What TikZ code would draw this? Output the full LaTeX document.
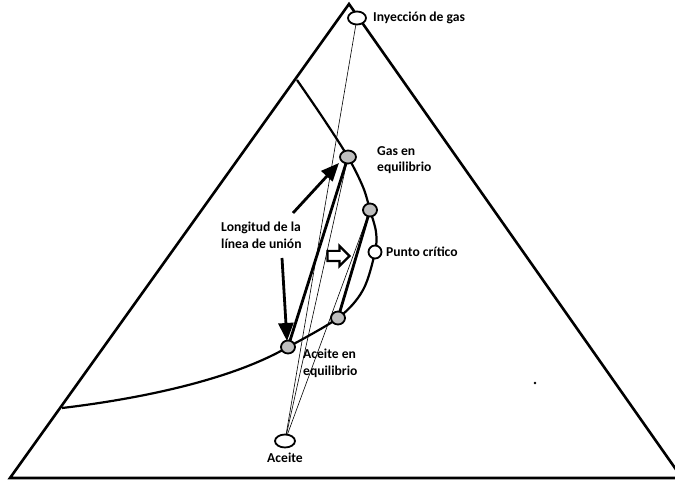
\documentclass[tikz,border=0pt]{standalone}
\usepackage{fontspec}
\setmainfont{Carlito}
\usetikzlibrary{arrows.meta,shapes.geometric,shapes.arrows}
\definecolor{ink}{RGB}{0,0,0}
\definecolor{pgray}{RGB}{190,190,190}
\tikzset{
  >={Triangle[length=18pt,width=15pt]},
  edge/.style={line width=2.6pt,draw=ink,line join=miter},
  binodal/.style={line width=2.2pt,draw=ink},
  tie/.style={line width=2.8pt,draw=ink},
  ray/.style={line width=0.6pt,draw=ink},
  phase/.style={ellipse,draw=ink,line width=1.8pt,fill=#1,inner sep=0pt,
    minimum width=14pt,minimum height=13pt},
  phase/.default=pgray,
  lbl/.style={font=\fontsize{13.6}{16.5}\selectfont\bfseries,align=left,inner sep=0pt},
  pointer/.style={->,line width=2.8pt,draw=ink},
}
\begin{document}
\begin{tikzpicture}[x=1pt,y=-1pt]
  \useasboundingbox (0,0) rectangle (675,481);
  % ternary frame
  \coordinate (top) at (349,4);
  \coordinate (bl) at (10,478);
  \coordinate (br) at (682,478);
  \draw[edge] (top) -- (bl) -- (br) -- cycle;
  % points of the phase envelope
  \coordinate (pinj) at (357,18);
  \coordinate (pgas) at (348,157);
  \coordinate (pgas2) at (370,210);
  \coordinate (pcrit) at (375,252);
  \coordinate (poil2) at (338,318);
  \coordinate (poileq) at (288,347);
  \coordinate (poil) at (285,441);
  % binodal curve
  \draw[binodal] plot[smooth,tension=0.55] coordinates {(297,80) (323,118) (pgas) (363,187)
    (pgas2) (376,232) (pcrit) (363,290) (poil2) (poileq)};
  \draw[binodal] (poileq) .. controls (228,382) and (130,400) .. (62,408);
  % tie lines
  \draw[tie] (poileq) -- (pgas);
  \draw[tie] (poil2) -- (pgas2);
  % dilution lines from the oil
  \foreach \p in {pinj,pgas,pgas2}
    \draw[ray] (poil) -- (\p);
  % phase points
  \node[phase=white,minimum width=18pt] (inj) at (pinj) {};
  \node[phase,minimum width=16pt] (gas) at (pgas) {};
  \node[phase] (gas2) at (pgas2) {};
  \node[phase=white,minimum width=13pt] (crit) at (pcrit) {};
  \node[phase] (oil2) at (poil2) {};
  \node[phase] (oileq) at (poileq) {};
  \node[phase=white,minimum width=20pt] (oil) at (poil) {};
  % labels
  \node[lbl,anchor=west] (linj) at (373,18) {Inyección de gas};
  \node[lbl,anchor=north west] (lgas) at (377,146) {Gas en\\equilibrio};
  \node[lbl,anchor=west] (lcrit) at (386,252) {Punto crítico};
  \node[lbl,anchor=north west] (loileq) at (303,349) {Aceite en\\equilibrio};
  \node[lbl,anchor=north] (loil) at (285,453) {Aceite};
  \node[lbl,anchor=north west] (ltie) at (221,222) {Longitud de la\\línea de unión};
  % pointers to the tie line
  \coordinate (tipup) at (339,163);
  \coordinate (tipdn) at (287,341);
  \draw[pointer] (293,213) -- (tipup);
  \draw[pointer] (282,258) -- (tipdn);
  \node[single arrow,draw=ink,line width=2.2pt,fill=white,inner sep=4pt,
    minimum height=22pt,single arrow head extend=5pt] (shift) at (336,256) {};
  % stray mark
  \fill[ink] (535,383) circle (1.3);
\end{tikzpicture}
\end{document}
